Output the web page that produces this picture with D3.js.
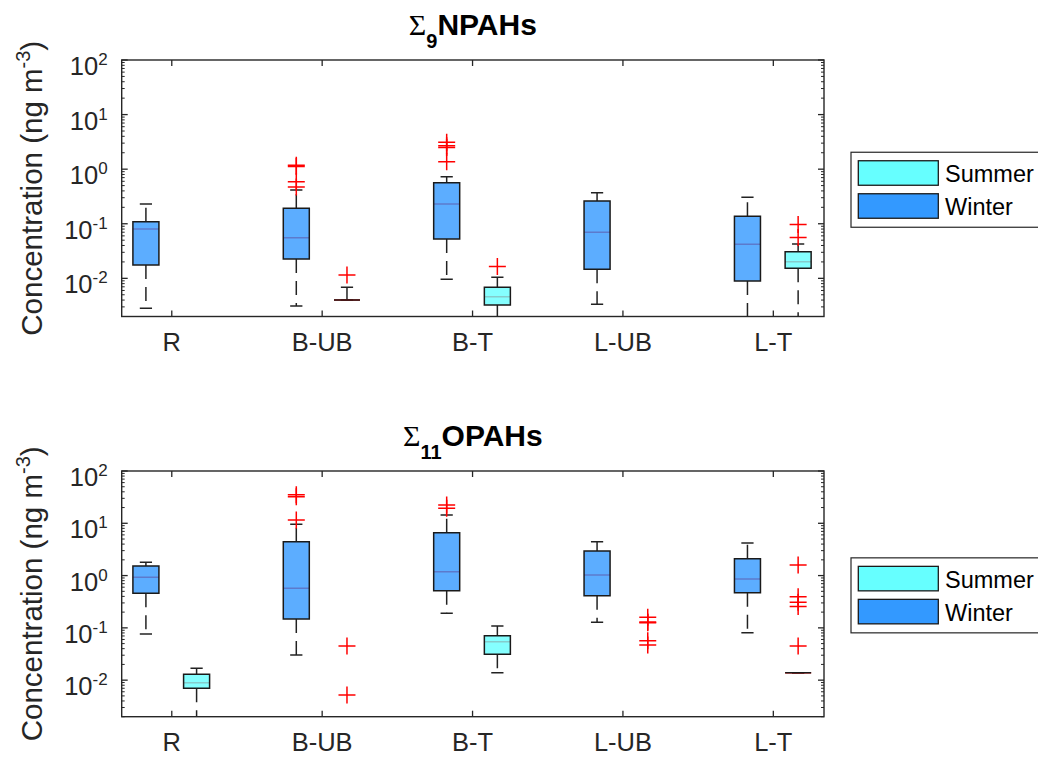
<!DOCTYPE html>
<html>
<head>
<meta charset="utf-8">
<script src="https://cdn.jsdelivr.net/npm/d3@7/dist/d3.min.js"></script>
<style>
body { margin: 0; background: #fff; }
text { font-family: "Liberation Sans", Arial, sans-serif; }
</style>
</head>
<body>
<script>
// sites on the x axis, seasons in the legend
var sites = ["R", "B-UB", "B-T", "L-UB", "L-T"];
var seasons = ["Summer", "Winter"];
var seasonColors = ["#66ffff", "#3399ff"];

// box stats per site: [lower whisker, Q1, median, Q3, upper whisker]; null = no box
var npahSummer = [null, [0.004, 0.004, 0.004, 0.004, 0.0069], [0.0015, 0.00326, 0.00462, 0.00687, 0.0105], null, [0.0015, 0.0153, 0.0202, 0.0308, 0.0427]];
var npahSummerOut = [[], [0.0115], [0.0164], [], [0.097, 0.056]];
var npahWinter = [[0.00283, 0.0176, 0.080, 0.109, 0.23], [0.00313, 0.0226, 0.0557, 0.192, 0.416], [0.0096, 0.0527, 0.231, 0.566, 0.73], [0.00335, 0.01466, 0.0698, 0.262, 0.371], [0.0015, 0.00896, 0.042, 0.137, 0.305]];
var npahWinterOut = [[], [1.18, 1.12, 0.59, 0.47], [3.1, 2.7, 2.5, 1.37], [], []];

var opahSummer = [[0.0015, 0.0070, 0.00896, 0.01297, 0.01687], null, [0.0139, 0.0313, 0.0545, 0.071, 0.109], null, [0.0139, 0.0139, 0.0139, 0.0139, 0.0139]];
var opahSummerOut = [[], [0.0451, 0.0052], [], [0.16, 0.13, 0.125, 0.057, 0.047], [1.6, 0.395, 0.308, 0.255, 0.045]];
var opahWinter = [[0.0764, 0.458, 0.927, 1.53, 1.79], [0.0303, 0.148, 0.571, 4.45, 9.6], [0.19, 0.514, 1.19, 6.6, 14.4], [0.128, 0.413, 1.03, 2.95, 4.45], [0.081, 0.471, 0.861, 2.1, 4.2]];
var opahWinterOut = [[], [35, 32, 11.5], [22.4, 19.3], [], []];

var yTickExp = [-2, -1, 0, 1, 2];

var panels = [
  { sub: "9", name: "NPAHs", stats: [npahSummer, npahWinter], outs: [npahSummerOut, npahWinterOut], top: 60, bottom: 316.5 },
  { sub: "11", name: "OPAHs", stats: [opahSummer, opahWinter], outs: [opahSummerOut, opahWinterOut], top: 471, bottom: 716.7 }
];

var W = 1038, H = 757;
var left = 121.7, right = 824;
var axisCol = "#262626";
// season offset from the site tick, and box width (x units)
var offs = [0.165, -0.172];
var boxW = 0.173;

var svg = d3.select("body").append("svg")
  .attr("width", W).attr("height", H)
  .style("background", "#fff");

var x = d3.scaleLinear().domain([0.667, 5.337]).range([left, right]);

panels.forEach(function(p, pi) {
  var y = d3.scaleLog().domain([0.002, 100]).range([p.bottom, p.top]);
  var g = svg.append("g");
  var cid = "clip" + pi;
  svg.append("clipPath").attr("id", cid).append("rect")
    .attr("x", left).attr("y", p.top).attr("width", right - left).attr("height", p.bottom - p.top);
  var plot = g.append("g").attr("clip-path", "url(#" + cid + ")");

  var bw = x(boxW) - x(0);
  var capW = bw * 0.47;

  p.stats.forEach(function(arr, si) {
    arr.forEach(function(s, i) {
      var cx = x(i + 1 + offs[si]);
      if (s) {
        // whiskers
        [[s[1], s[0]], [s[3], s[4]]].forEach(function(w) {
          if (w[0] == w[1]) return;
          plot.append("line")
            .attr("x1", cx).attr("x2", cx)
            .attr("y1", y(w[0])).attr("y2", y(w[1]))
            .attr("stroke", "#222").attr("stroke-width", 1.5)
            .attr("stroke-dasharray", "14,8");
        });
        // caps
        [s[0], s[4]].forEach(function(v) {
          plot.append("line")
            .attr("x1", cx - capW / 2).attr("x2", cx + capW / 2)
            .attr("y1", y(v)).attr("y2", y(v))
            .attr("stroke", "#222").attr("stroke-width", 1.5);
        });
        // median in red, seen through the patch
        plot.append("line")
          .attr("x1", cx - bw / 2).attr("x2", cx + bw / 2)
          .attr("y1", y(s[2])).attr("y2", y(s[2]))
          .attr("stroke", "red").attr("stroke-width", 1.5);
        plot.append("rect")
          .attr("x", cx - bw / 2).attr("y", y(s[3]))
          .attr("width", bw).attr("height", y(s[1]) - y(s[3]))
          .attr("fill", seasonColors[si]).attr("fill-opacity", 0.8);
        plot.append("path")
          .attr("d", "M" + (cx - bw / 2) + "," + y(s[3]) + "H" + (cx + bw / 2) + "V" + y(s[1]) + "H" + (cx - bw / 2) + "Z")
          .attr("fill", "none").attr("stroke", "#1a1a1a").attr("stroke-width", 1.5);
      }
      // outliers
      p.outs[si][i].forEach(function(v) {
        var yy = y(v), h = 8.5;
        plot.append("path")
          .attr("d", "M" + (cx - h) + "," + yy + "H" + (cx + h) + "M" + cx + "," + (yy - h) + "V" + (yy + h))
          .attr("stroke", "red").attr("stroke-width", 1.5).attr("fill", "none");
      });
    });
  });

  // frame
  g.append("rect")
    .attr("x", left).attr("y", p.top).attr("width", right - left).attr("height", p.bottom - p.top)
    .attr("fill", "none").attr("stroke", axisCol).attr("stroke-width", 1.4);

  // x ticks (bottom and top, inward)
  sites.forEach(function(name, i) {
    var tx = x(i + 1);
    g.append("line").attr("x1", tx).attr("x2", tx).attr("y1", p.bottom).attr("y2", p.bottom - 6)
      .attr("stroke", axisCol).attr("stroke-width", 1.3);
    g.append("line").attr("x1", tx).attr("x2", tx).attr("y1", p.top).attr("y2", p.top + 6)
      .attr("stroke", axisCol).attr("stroke-width", 1.3);
    g.append("text").attr("x", tx).attr("y", p.bottom + 34.5)
      .attr("text-anchor", "middle").attr("font-size", 25.5).attr("fill", axisCol)
      .text(name);
  });

  // y ticks: majors and minors, both sides
  var minors = [];
  for (var e = -3; e < 2; e++) {
    for (var k = 2; k <= 9; k++) {
      var v = k * Math.pow(10, e);
      if (v >= 0.002 && v <= 100) minors.push(v);
    }
  }
  minors.forEach(function(v) {
    g.append("line").attr("x1", left).attr("x2", left + 3).attr("y1", y(v)).attr("y2", y(v))
      .attr("stroke", axisCol).attr("stroke-width", 1);
    g.append("line").attr("x1", right).attr("x2", right - 3).attr("y1", y(v)).attr("y2", y(v))
      .attr("stroke", axisCol).attr("stroke-width", 1);
  });
  yTickExp.forEach(function(ex) {
    var yy = y(Math.pow(10, ex));
    g.append("line").attr("x1", left).attr("x2", left + 6).attr("y1", yy).attr("y2", yy)
      .attr("stroke", axisCol).attr("stroke-width", 1.3);
    g.append("line").attr("x1", right).attr("x2", right - 6).attr("y1", yy).attr("y2", yy)
      .attr("stroke", axisCol).attr("stroke-width", 1.3);
    var t = g.append("text").attr("x", left - 14).attr("y", yy + 15)
      .attr("text-anchor", "end").attr("font-size", 25.5).attr("fill", axisCol);
    t.append("tspan").text("10");
    t.append("tspan").attr("dy", -10).attr("font-size", 17).text(ex < 0 ? "-" + (-ex) : "" + ex);
  });

  // y label
  var cy = (p.top + p.bottom) / 2;
  var lab = g.append("text")
    .attr("transform", "translate(42," + cy + ") rotate(-90)")
    .attr("text-anchor", "middle").attr("font-size", 29.5).attr("fill", axisCol);
  lab.append("tspan").text("Concentration (ng m");
  lab.append("tspan").attr("dy", -12).attr("font-size", 20).text("-3");
  lab.append("tspan").attr("dy", 12).text(")");

  // title
  var tt = g.append("text").attr("x", (left + right) / 2).attr("y", p.top - 25)
    .attr("text-anchor", "middle").attr("font-size", 30).attr("fill", "#000");
  tt.append("tspan").attr("font-family", "'Liberation Serif', serif").text("\u03A3");
  tt.append("tspan").attr("dy", 13).attr("font-size", 20).attr("font-weight", "bold").text(p.sub);
  tt.append("tspan").attr("dy", -13).attr("font-weight", "bold").text(p.name);

  // legend
  var lg = g.append("g");
  lg.append("rect").attr("x", 851).attr("y", cy - 36).attr("width", 220).attr("height", 75)
    .attr("fill", "#fff").attr("stroke", axisCol).attr("stroke-width", 1.2);
  seasons.forEach(function(sn, si) {
    var sy = cy - 27.5 + si * 33;
    lg.append("rect").attr("x", 858.3).attr("y", sy).attr("width", 80).attr("height", 24.5)
      .attr("fill", seasonColors[si]).attr("stroke", "#1a1a1a").attr("stroke-width", 1.3);
    lg.append("text").attr("x", 945).attr("y", sy + 21.5).attr("font-size", 23.5).attr("fill", "#000").text(sn);
  });
});
</script>
</body>
</html>
